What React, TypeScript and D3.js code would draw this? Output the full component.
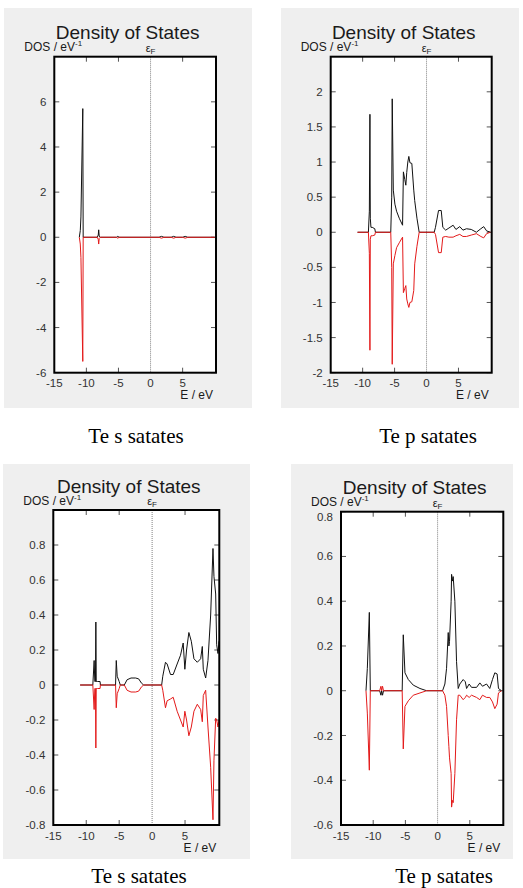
import React from "react";
import * as d3 from "d3";

// ---------- data ----------
const yTicksA = [-6, -4, -2, 0, 2, 4, 6];
const yTicksB = [-2, -1.5, -1, -0.5, 0, 0.5, 1, 1.5, 2];
const yTicksC = [-0.8, -0.6, -0.4, -0.2, 0, 0.2, 0.4, 0.6, 0.8];
const yTicksD = [-0.6, -0.4, -0.2, 0, 0.2, 0.4, 0.6, 0.8];
const xTicks = [-15, -10, -5, 0, 5];
const xTicksMirror = [-10, -5, 5];

const titleText = "Density of States";
const captions = ["Te s satates", "Te p satates", "Te s satates", "Te p satates"];

// Panel 1: Te s (top left)
const energy1 = [-11.1, -10.95, -10.85, -10.56, -10.5, -8.3, -8.15, -8.08, -8.0, -7.85, -5.3, -5.1, -4.9, 1.3, 1.7, 2.1, 3.2, 3.6, 4.0, 5.0, 5.4, 5.8, 10];
const up1 = [0, 0.3, 0.9, 5.7, 0, 0, 0.1, 0.33, 0.05, 0, 0, 0.04, 0, 0, 0.04, 0, 0, 0.04, 0, 0, 0.04, 0, 0];
const down1 = [0, -0.3, -0.9, -5.5, 0, 0, -0.1, -0.3, -0.05, 0, 0, -0.04, 0, 0, -0.04, 0, 0, -0.04, 0, 0, -0.04, 0, 0];

// Panel 2: Te p (top right)
const energy2 = [-10.8, -9.1, -8.95, -8.86, -8.8, -8.7, -8.5, -8.1, -8.0, -5.6, -5.45, -5.37, -5.2, -4.95, -4.69, -4.27, -3.75, -3.62, -3.4, -3.24, -3.1, -2.93, -2.77, -2.6, -2.3, -2.0, -1.85, -1.5, -1.15, 1.2, 1.4, 1.88, 2.3, 2.55, 3.0, 3.5, 4.16, 4.6, 5.2, 5.7, 6.25, 7.0, 7.8, 8.5, 8.95, 9.4, 10];
const up2 = [0, 0, 0.3, 1.68, 0.2, 0.07, 0.07, 0.05, 0, 0, 0.5, 1.9, 0.6, 0.4, 0.3, 0.2, 0.1, 0.86, 0.75, 0.67, 0.85, 1.0, 1.08, 0.99, 0.98, 0.6, 0.45, 0.2, 0, 0, 0.07, 0.31, 0.31, 0.07, 0.03, 0.06, 0.1, 0.04, 0.08, 0.03, 0.05, 0.04, 0.0, 0.05, 0.08, 0.02, 0];
const down2 = [0, 0, -0.3, -1.68, -0.1, -0.05, -0.05, -0.04, 0, 0, -0.5, -1.88, -0.45, -0.33, -0.22, -0.15, -0.07, -0.86, -0.8, -0.76, -0.95, -1.02, -1.07, -1.0, -0.99, -0.83, -0.45, -0.2, 0, 0, -0.03, -0.29, -0.29, -0.07, -0.06, -0.07, -0.07, -0.05, -0.03, -0.06, -0.06, -0.04, -0.02, -0.06, -0.08, -0.02, 0];

// Panel 3: Te s (bottom left)
const energy3 = [-10.93, -9.0, -8.8, -8.7, -8.6, -8.54, -8.48, -8.3, -7.9, -7.85, -5.55, -5.44, -5.3, -5.0, -4.83, -4.22, -3.8, -3.2, -2.5, -2.04, -1.6, -1.28, 1.45, 1.62, 2.03, 2.28, 2.79, 3.2, 3.8, 4.31, 4.72, 4.97, 5.23, 5.58, 5.95, 6.35, 6.86, 7.37, 7.62, 7.77, 8.13, 8.48, 8.89, 9.24, 9.39, 9.65, 9.8, 10.0, 10.15];
const up3 = [0, 0, 0.14, 0.02, 0.02, 0.36, 0.02, 0.02, 0.02, 0, 0, 0.14, 0.05, 0.02, 0, 0, 0.03, 0.04, 0.04, 0.035, 0.01, 0, 0, 0.05, 0.13, 0.12, 0.06, 0.06, 0.12, 0.17, 0.24, 0.09, 0.2, 0.3, 0.25, 0.15, 0.13, 0.15, 0.22, 0.09, 0.04, 0.14, 0.4, 0.78, 0.62, 0.52, 0.23, 0.18, 0.25];
const down3 = [0, 0, -0.14, -0.02, -0.02, -0.36, -0.02, -0.02, -0.02, 0, 0, -0.13, -0.05, -0.02, 0, 0, -0.03, -0.04, -0.04, -0.035, -0.01, 0, 0, -0.03, -0.13, -0.09, -0.08, -0.07, -0.15, -0.2, -0.24, -0.15, -0.2, -0.29, -0.24, -0.15, -0.11, -0.14, -0.21, -0.06, -0.03, -0.24, -0.47, -0.77, -0.43, -0.19, -0.2, -0.24, -0.2];

// Panel 4: Te p (bottom right)
const energy4 = [-11.12, -10.91, -10.6, -10.45, -9.0, -8.8, -8.69, -8.55, -8.4, -8.2, -5.5, -5.33, -5.07, -4.55, -3.78, -2.74, -1.71, 0.77, 1.13, 1.39, 1.65, 1.75, 1.85, 2.1, 2.17, 2.3, 2.42, 2.68, 2.94, 3.2, 3.45, 3.97, 4.3, 4.5, 4.9, 5.27, 6.05, 6.56, 6.97, 7.6, 8.1, 8.52, 8.88, 9.24, 9.45, 9.92];
const up4 = [0, 0.1, 0.35, 0, 0, -0.02, 0.0, -0.02, 0, 0, 0, 0.25, 0.08, 0.05, 0.025, 0.01, 0, 0, 0.03, 0.1, 0.26, 0.2, 0.22, 0.4, 0.52, 0.49, 0.51, 0.4, 0.13, 0.01, 0.03, 0.05, 0.04, 0.01, 0.03, 0.015, 0.015, 0.035, 0.02, 0.03, 0.01, 0.05, 0.08, 0.075, 0.01, 0];
const down4 = [0, -0.1, -0.355, 0, 0, 0.02, 0, 0.02, 0, 0, 0, -0.26, -0.07, -0.045, -0.02, -0.01, 0, 0, -0.02, -0.07, -0.2, -0.25, -0.3, -0.37, -0.52, -0.49, -0.5, -0.37, -0.13, -0.02, -0.02, -0.04, -0.03, -0.02, -0.03, -0.02, -0.03, -0.04, -0.02, -0.03, -0.03, -0.05, -0.08, -0.06, -0.01, 0];

// ---------- layout ----------
type PanelCfg = {
  bg: [number, number, number, number];
  plot: { l: number; r: number; t: number; b: number };
  yDomain: [number, number];
  yTicks: number[];
  energy: number[];
  up: number[];
  down: number[];
  caption: string;
  capX: number;
  capY: number;
};

const panels: PanelCfg[] = [
  { bg: [4, 8, 248, 400], plot: { l: 54.3, r: 216, t: 56.7, b: 372.7 }, yDomain: [-6, 8], yTicks: yTicksA, energy: energy1, up: up1, down: down1, caption: captions[0], capX: 136, capY: 443 },
  { bg: [281, 8, 238, 400], plot: { l: 330.7, r: 491.7, t: 56.7, b: 372.7 }, yDomain: [-2, 2.5], yTicks: yTicksB, energy: energy2, up: up2, down: down2, caption: captions[1], capX: 428, capY: 443 },
  { bg: [3, 464, 247, 395], plot: { l: 53.3, r: 219.3, t: 510, b: 825 }, yDomain: [-0.8, 1.0], yTicks: yTicksC, energy: energy3, up: up3, down: down3, caption: captions[2], capX: 139, capY: 883 },
  { bg: [291, 464, 222, 395], plot: { l: 341, r: 503.3, t: 511.7, b: 825 }, yDomain: [-0.6, 0.8], yTicks: yTicksD, energy: energy4, up: up4, down: down4, caption: captions[3], capX: 444, capY: 883 },
];

const SANS = "'Liberation Sans', Arial, sans-serif";
const SERIF = "'Liberation Serif', 'Times New Roman', serif";

function Panel({ cfg, idx }: { cfg: PanelCfg; idx: number }) {
  const { plot } = cfg;
  const x = d3.scaleLinear().domain([-15, 10.2]).range([plot.l, plot.r]);
  const y = d3.scaleLinear().domain(cfg.yDomain).range([plot.b, plot.t]);
  const pts = cfg.energy.map((e, i) => i);
  const lineUp = d3.line<number>().x((i) => x(cfg.energy[i])).y((i) => y(cfg.up[i]));
  const lineDn = d3.line<number>().x((i) => x(cfg.energy[i])).y((i) => y(cfg.down[i]));
  const clipId = `clip${idx}`;
  const tickLen = 5;
  const cx = (plot.l + plot.r) / 2 - 7.5;
  return (
    <g>
      <rect x={cfg.bg[0]} y={cfg.bg[1]} width={cfg.bg[2]} height={cfg.bg[3]} fill="#efefef" />
      <rect x={plot.l} y={plot.t} width={plot.r - plot.l} height={plot.b - plot.t} fill="#ffffff" />
      <defs>
        <clipPath id={clipId}>
          <rect x={plot.l} y={plot.t} width={plot.r - plot.l} height={plot.b - plot.t} />
        </clipPath>
      </defs>
      {/* Fermi level */}
      <line x1={x(0)} x2={x(0)} y1={plot.t} y2={plot.b} stroke="#808080" strokeWidth={1} strokeDasharray="1,1" />
      {/* y ticks */}
      {cfg.yTicks.map((t) => (
        <g key={`y${t}`}>
          <line x1={plot.l} x2={plot.l + tickLen} y1={y(t)} y2={y(t)} stroke="#555" strokeWidth={1} />
          <line x1={plot.r} x2={plot.r - tickLen} y1={y(t)} y2={y(t)} stroke="#555" strokeWidth={1} />
          <text
            x={plot.l - 8}
            y={y(t) + (Math.abs(y(t) - plot.t) < 1 ? 5 : 0)}
            dy="0.35em"
            textAnchor="end"
            fontFamily={SANS}
            fontSize={11.5}
            fill="#333"
          >
            {String(t)}
          </text>
        </g>
      ))}
      {/* x ticks */}
      {xTicksMirror.map((t) => (
        <g key={`xm${t}`}>
          <line x1={x(t)} x2={x(t)} y1={plot.b} y2={plot.b - tickLen} stroke="#555" strokeWidth={1} />
          <line x1={x(t)} x2={x(t)} y1={plot.t} y2={plot.t + tickLen} stroke="#555" strokeWidth={1} />
        </g>
      ))}
      {xTicks.map((t) => (
        <text key={`xl${t}`} x={x(t)} y={plot.b + 14.5} textAnchor="middle" fontFamily={SANS} fontSize={11.5} fill="#333">
          {String(t)}
        </text>
      ))}
      {/* curves */}
      <g clipPath={`url(#${clipId})`}>
        <path d={lineUp(pts) || ""} fill="none" stroke="#111" strokeWidth={1} />
        <path d={lineDn(pts) || ""} fill="none" stroke="#e31a1a" strokeWidth={1} />
      </g>
      {/* frame */}
      <rect x={plot.l} y={plot.t} width={plot.r - plot.l} height={plot.b - plot.t} fill="none" stroke="#000" strokeWidth={2} />
      {/* labels */}
      <text x={cx} y={plot.t - 17.5} textAnchor="middle" fontFamily={SANS} fontSize={19} fill="#1a1a1a">
        {titleText}
      </text>
      <text x={plot.l - 30} y={plot.t - 5.5} fontFamily={SANS} fontSize={12} fill="#1a1a1a">
        DOS / eV
        <tspan fontSize={8} dy={-5}>-1</tspan>
      </text>
      <text x={x(0)} y={plot.t - 5} textAnchor="middle" fontFamily={SANS} fontSize={11} fill="#1a1a1a">
        ε<tspan fontSize={8} dy={2}>F</tspan>
      </text>
      <text x={plot.r - 3} y={plot.b + 26.5} textAnchor="end" fontFamily={SANS} fontSize={12} fill="#1a1a1a">
        E / eV
      </text>
      <text x={cfg.capX} y={cfg.capY} textAnchor="middle" fontFamily={SERIF} fontSize={21} fill="#000">
        {cfg.caption}
      </text>
    </g>
  );
}

export default function App() {
  return (
    <svg
      width={523}
      height={888}
      viewBox="0 0 523 888"
      style={{ position: "absolute", left: 0, top: 0, background: "#fff" }}
    >
      <rect x={0} y={0} width={523} height={888} fill="#fff" />
      {panels.map((p, i) => (
        <Panel key={i} cfg={p} idx={i} />
      ))}
    </svg>
  );
}
